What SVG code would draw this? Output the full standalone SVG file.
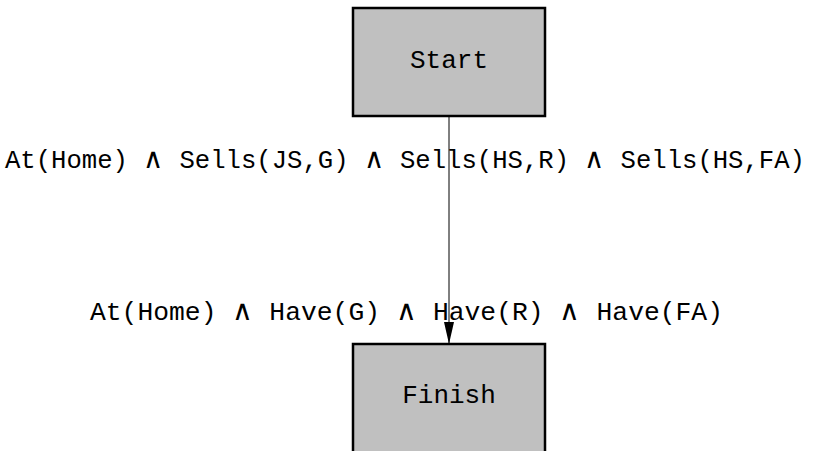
<svg xmlns="http://www.w3.org/2000/svg" width="824" height="451" viewBox="0 0 824 451">
  <defs>
    <style>
      .node rect { fill: #c0c0c0; stroke: #000; stroke-width: 2.5; }
      .lbl { font-family: "Liberation Mono", "DejaVu Sans Mono", monospace; font-size: 26px; fill: #000; }
      .w { font-family: "DejaVu Sans", "Liberation Serif", sans-serif; font-weight: 200; font-size: 28px; }
      .edge { stroke: #000; stroke-width: 1; fill: none; }
    </style>
    <marker id="arrow" markerWidth="22" markerHeight="10" refX="22" refY="5" orient="auto" markerUnits="userSpaceOnUse" viewBox="0 0 22 10">
      <path d="M0,0 L22,5 L0,10 Z" fill="#000"/>
    </marker>
  </defs>
  <rect width="824" height="451" fill="#fff"/>
  <g id="connectors">
    <line class="edge" x1="449" y1="117" x2="449" y2="344" marker-end="url(#arrow)"/>
    <text class="lbl" x="405" y="168" text-anchor="middle" textLength="800" lengthAdjust="spacingAndGlyphs">At(Home) <tspan class="w">∧</tspan> Sells(JS,G) <tspan class="w">∧</tspan> Sells(HS,R) <tspan class="w">∧</tspan> Sells(HS,FA)</text>
    <text class="lbl" x="406.5" y="320" text-anchor="middle" textLength="633" lengthAdjust="spacingAndGlyphs">At(Home) <tspan class="w">∧</tspan> Have(G) <tspan class="w">∧</tspan> Have(R) <tspan class="w">∧</tspan> Have(FA)</text>
  </g>
  <g id="start" class="node">
    <rect x="353" y="8" width="192" height="108"/>
    <text class="lbl" x="449" y="68" text-anchor="middle">Start</text>
  </g>
  <g id="finish" class="node">
    <rect x="353" y="344" width="192" height="120"/>
    <text class="lbl" x="449" y="403" text-anchor="middle">Finish</text>
  </g>
</svg>
